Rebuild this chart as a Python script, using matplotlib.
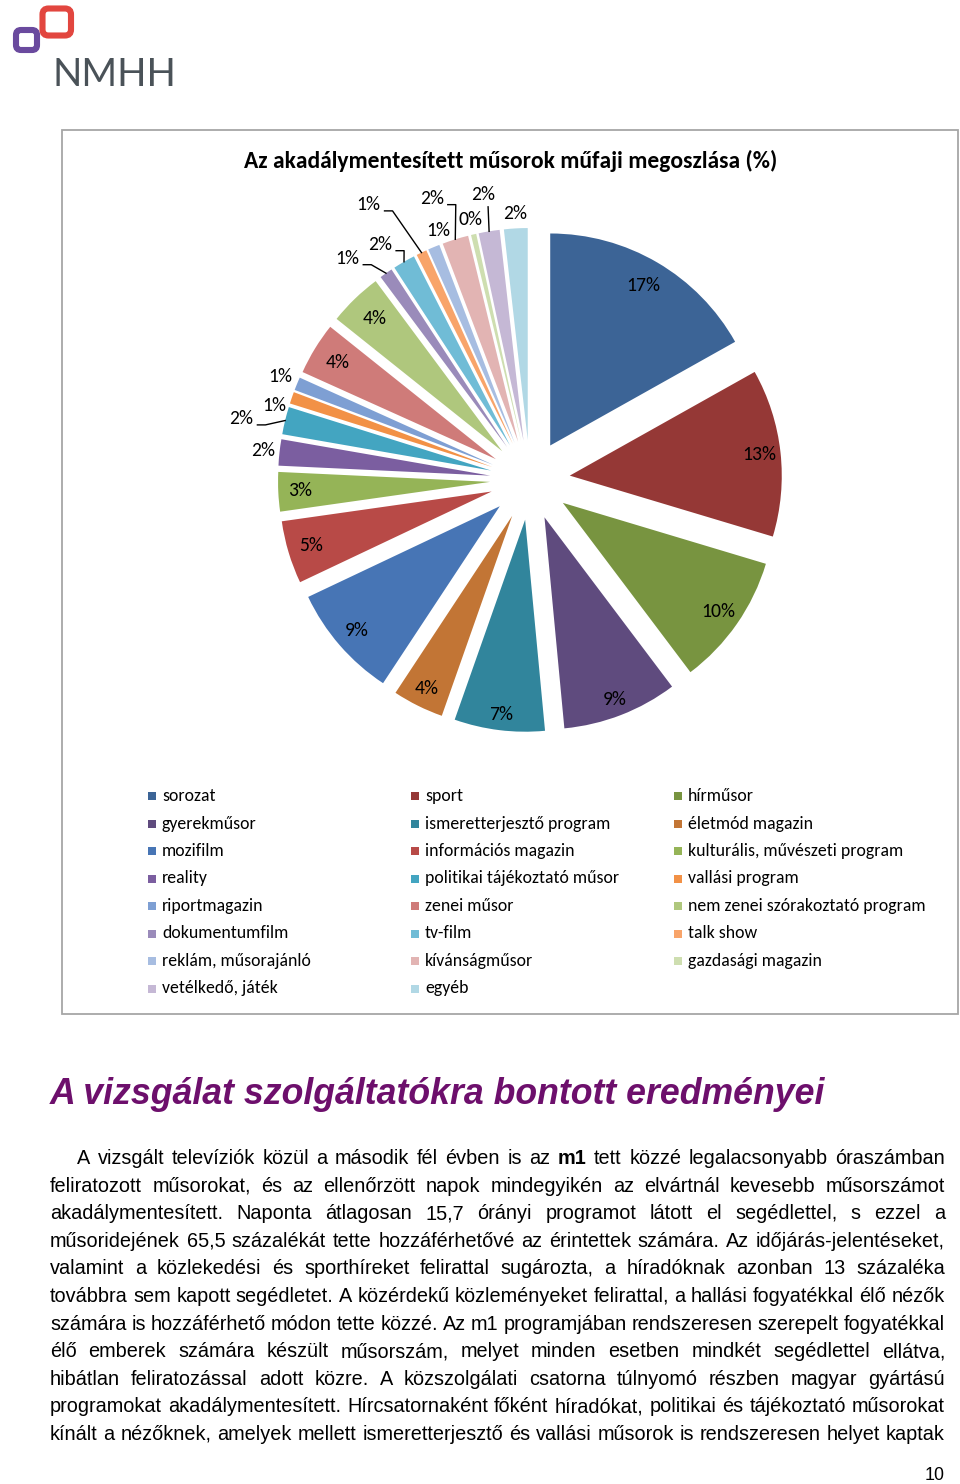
import matplotlib
matplotlib.use("Agg")
import matplotlib.pyplot as plt
from matplotlib import font_manager
from matplotlib.patches import Rectangle, FancyBboxPatch
import numpy as np

W, H = 960, 1484

categories = [
    "sorozat", "sport", "hírműsor",
    "gyerekműsor", "ismeretterjesztő program", "életmód magazin",
    "mozifilm", "információs magazin", "kulturális, művészeti program",
    "reality", "politikai tájékoztató műsor", "vallási program",
    "riportmagazin", "zenei műsor", "nem zenei szórakoztató program",
    "dokumentumfilm", "tv-film", "talk show",
    "reklám, műsorajánló", "kívánságműsor", "gazdasági magazin",
    "vetélkedő, játék", "egyéb",
]
values = [16.9, 12.8, 10.1, 8.8, 6.9, 3.9, 8.7, 4.8, 3.0, 2.0, 2.1, 0.9,
          1.0, 4.0, 4.1, 1.0, 1.7, 0.8, 0.9, 2.0, 0.4, 1.6, 1.8]
colors = ["#3C6496", "#953836", "#789440", "#5F4B7E", "#31859C", "#C27535",
          "#4775B5", "#B84A47", "#95B457", "#7B5EA0", "#43A5C1", "#F29146",
          "#7E9FD3", "#CF7B79", "#AFC77D", "#9A8BBA", "#70BCD6", "#F8A46A",
          "#A7BDE1", "#E2B4B3", "#CEDEB0", "#C5B8D5", "#B1D8E5"]

title = "Az akadálymentesített műsorok műfaji megoszlása (%)"
heading = "A vizsgálat szolgáltatókra bontott eredményei"
body_lines = [
    "A vizsgált televíziók közül a második fél évben is az *m1* tett közzé legalacsonyabb óraszámban",
    "feliratozott műsorokat, és az ellenőrzött napok mindegyikén az elvártnál kevesebb műsorszámot",
    "akadálymentesített. Naponta átlagosan 15,7 órányi programot látott el segédlettel, s ezzel a",
    "műsoridejének 65,5 százalékát tette hozzáférhetővé az érintettek számára. Az időjárás-jelentéseket,",
    "valamint a közlekedési és sporthíreket felirattal sugározta, a híradóknak azonban 13 százaléka",
    "továbbra sem kapott segédletet. A közérdekű közleményeket felirattal, a hallási fogyatékkal élő nézők",
    "számára is hozzáférhető módon tette közzé. Az m1 programjában rendszeresen szerepelt fogyatékkal",
    "élő emberek számára készült műsorszám, melyet minden esetben mindkét segédlettel ellátva,",
    "hibátlan feliratozással adott közre. A közszolgálati csatorna túlnyomó részben magyar gyártású",
    "programokat akadálymentesített. Hírcsatornaként főként híradókat, politikai és tájékoztató műsorokat",
    "kínált a nézőknek, amelyek mellett ismeretterjesztő és vallási műsorok is rendszeresen helyet kaptak",
]
page_no = "10"

# label placement: distance from pie centre (px), angle shift (deg), leader style
label_dist = [225, 231, 230, 235, 236, 233, 229, 229, 230, 268, 295, 266,
              270, 225, 224, 287, 279, 319, 266, 298, 267, 289, 267]
label_shift = [0, 0, 0, 0, 0, 0, 0, 0, 0, 0, 1.7, 2.8,
               0, 0, 0, 4.7, 2.5, 4.9, -2.3, 2.0, 0, 0, 0]
leader = {10: "elbow", 15: "elbow", 16: "elbow", 17: "elbow", 19: "elbow", 21: "down"}

names = {f.name for f in font_manager.fontManager.ttflist}
calibri = "Carlito" if "Carlito" in names else "Lato"
body_font = "Liberation Sans Narrow" if "Liberation Sans Narrow" in names else "Liberation Sans"

fig = plt.figure(figsize=(W / 100, H / 100), dpi=100)
ax = fig.add_axes([0, 0, 1, 1])
renderer = fig.canvas.get_renderer()


def Y(y):
    return H - y


def fit(text, width, **kw):
    t = ax.text(0, 0, text, fontsize=20, **kw)
    w = t.get_window_extent(renderer).width
    t.remove()
    return 20 * width / w


# pie
cx, cy, R, EXP = 530, Y(480), 212, 40
wedges, _ = ax.pie(values, colors=colors, startangle=90, counterclock=False,
                   radius=R, center=(cx, cy), explode=[EXP] * len(values),
                   wedgeprops=dict(linewidth=0))

total = sum(values)
lab_size = fit("17%", 34, family=calibri)
for i, w in enumerate(wedges):
    mid = np.radians((w.theta1 + w.theta2) / 2)
    a = mid + np.radians(label_shift[i])
    lx = cx + label_dist[i] * np.cos(a)
    ly = cy + label_dist[i] * np.sin(a)
    txt = f"{round(values[i] / total * 100)}%"
    ax.text(lx, ly, txt, fontsize=lab_size, family=calibri, ha="center",
            va="center", color="#000000")
    if i in leader:
        wx = w.center[0] + R * np.cos(mid)
        wy = w.center[1] + R * np.sin(mid)
        if leader[i] == "elbow":
            sx, sy = lx + 16, ly - 6
            ax.plot([sx, sx + 8, wx], [sy, sy, wy], color="#000000", lw=1)
        else:
            sx, sy = lx + 5, ly - 12
            ax.plot([sx, wx], [sy, wy], color="#000000", lw=1)

# chart title and frame
ax.add_patch(Rectangle((62, Y(1014)), 896, 884, fill=False,
                       edgecolor="#A6A6A6", lw=1.3))
ax.text(511, Y(161), title, fontsize=fit(title, 534, family=calibri, weight="bold"),
        family=calibri, weight="bold", ha="center", va="center")

# legend (row-wise, 3 columns)
leg_size = fit("nem zenei szórakoztató program", 236, family=calibri)
for i, (cat, col) in enumerate(zip(categories, colors)):
    r, c = divmod(i, 3)
    x0 = 148 + c * 263
    y0 = 796 + r * 27.5
    ax.add_patch(Rectangle((x0, Y(y0) - 4), 8, 8, facecolor=col, edgecolor="none"))
    ax.text(x0 + 14, Y(y0), cat, fontsize=leg_size, family=calibri,
            ha="left", va="center", color="#000000")

# logo
ax.add_patch(FancyBboxPatch((16, Y(50)), 21, 20,
                            boxstyle="round,pad=0,rounding_size=5",
                            fill=False, edgecolor="#6A4A9E", lw=4.4))
ax.add_patch(FancyBboxPatch((42.5, Y(35.5)), 28.5, 27,
                            boxstyle="round,pad=0,rounding_size=6",
                            fill=False, edgecolor="#E2463F", lw=4.4))
ax.text(53, Y(86), "NMHH", fontsize=fit("NMHH", 124, family="Lato"),
        family="Lato", color="#4A5258", ha="left", va="baseline")

# heading
ax.text(50, Y(1095), heading,
        fontsize=fit(heading, 775, family="Liberation Sans", weight="bold", style="italic"),
        family="Liberation Sans", weight="bold", style="italic", color="#6D0F6C",
        ha="left", va="center")

# justified body text
body_size = fit(body_lines[6], 895, family=body_font)
for k, line in enumerate(body_lines):
    y = Y(1158.5 + k * 27.6)
    x_left = 77 if k == 0 else 50
    items = []
    for word in line.split(" "):
        bold = word.startswith("*")
        t = ax.text(0, y, word.strip("*"), fontsize=body_size, family=body_font,
                    weight="bold" if bold else "normal", ha="left", va="center",
                    color="#000000")
        items.append((t, t.get_window_extent(renderer).width))
    gap = (945 - x_left - sum(wd for _, wd in items)) / (len(items) - 1)
    x = x_left
    for t, wd in items:
        t.set_x(x)
        x += wd + gap

ax.text(945, Y(1475), page_no, fontsize=fit(page_no, 20, family="Liberation Sans"),
        family="Liberation Sans", ha="right", va="center")

ax.set_xlim(0, W)
ax.set_ylim(0, H)
ax.set_aspect("equal")
ax.axis("off")
fig.savefig("out.png", dpi=100)
